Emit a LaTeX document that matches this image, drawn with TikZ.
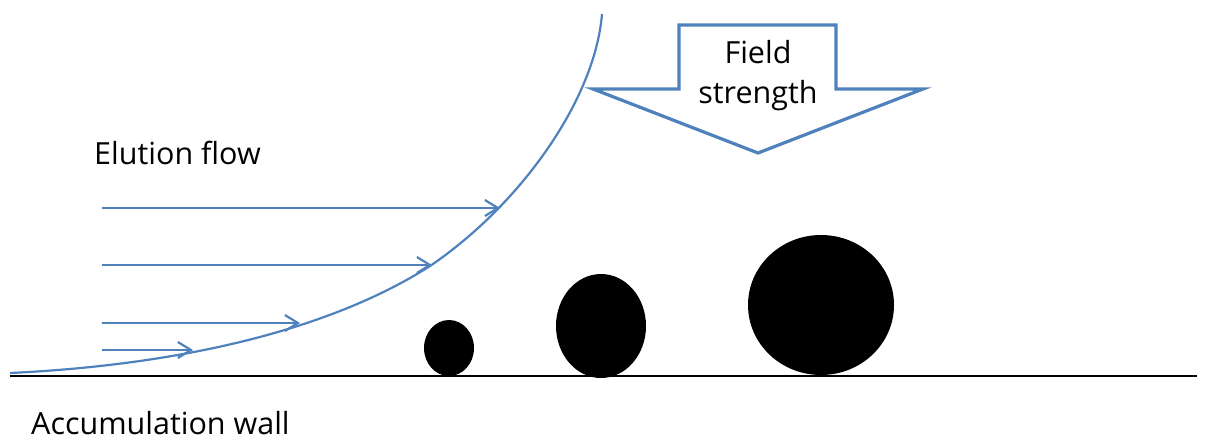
\documentclass[tikz,border=0pt]{standalone}
\usepackage{fontspec}
\setmainfont{Open Sans}
\usetikzlibrary{arrows.meta}
\definecolor{flowblue}{RGB}{79,129,189}
\begin{document}
\begin{tikzpicture}[x=1pt,y=-1pt,
  flow/.style={draw=flowblue,line width=2.2pt},
  flowarrow/.style={flow,-{Straight Barb[length=13pt,width=16pt,line width=2.2pt]}},
  particle/.style={fill=black,draw=none},
  txt/.style={font=\fontsize{30.5}{36}\selectfont,inner sep=0pt},
  lbl/.style={txt,anchor=base west}]
\useasboundingbox (0,0) rectangle (1210,439);
% wall
\coordinate (wl) at (10,376);
\coordinate (wr) at (1197,376);
\draw[line width=2.6pt] (wl) -- (wr);
% velocity profile
\draw[flow] (10,373) .. controls (180,365) and (330,330) .. (430,266)
  .. controls (520,205) and (595,100) .. (602,14);
% flow arrows
\coordinate (a1s) at (102,208); \coordinate (a1e) at (500,208);
\coordinate (a2s) at (102,265); \coordinate (a2e) at (432,265);
\coordinate (a3s) at (102,323); \coordinate (a3e) at (300,323);
\coordinate (a4s) at (102,350); \coordinate (a4e) at (193,350);
\draw[flowarrow] (a1s) -- (a1e);
\draw[flowarrow] (a2s) -- (a2e);
\draw[flowarrow] (a3s) -- (a3e);
\draw[flowarrow] (a4s) -- (a4e);
% particles
\fill[particle] (449,348) ellipse [x radius=25, y radius=28];
\fill[particle] (601,326) ellipse [x radius=45, y radius=52];
\fill[particle] (821,305) ellipse [x radius=73, y radius=70];
% field strength arrow
\draw[draw=flowblue,line width=3.2pt,fill=white,line join=miter]
  (679,25) -- (836,25) -- (836,89) -- (923,89) -- (758,153) -- (593,89) -- (679,89) -- cycle;
\node[txt,anchor=base] (f1) at (758,63) {Field};
\node[txt,anchor=base] (f2) at (758,103) {strength};
% labels
\node[lbl] (elu) at (94,164) {Elution flow};
\node[lbl] (acc) at (31,434) {Accumulation wall};
\end{tikzpicture}
\end{document}
